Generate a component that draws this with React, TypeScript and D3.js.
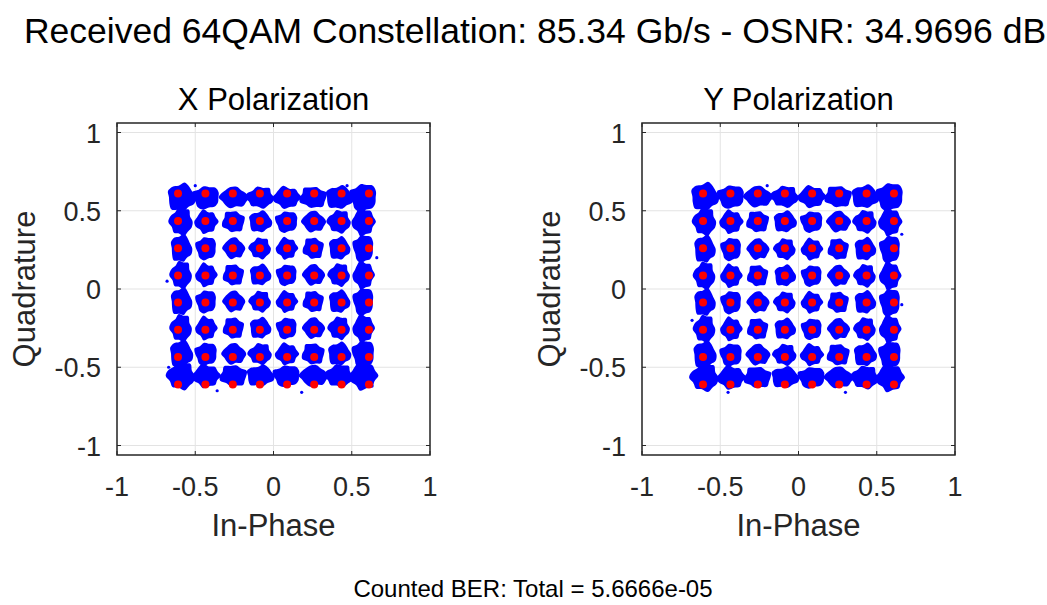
import React from "react";
import * as d3 from "d3";

// ideal 64QAM levels (red markers), same for I and Q
const levels = [-0.61, -0.435, -0.26, -0.087, 0.087, 0.26, 0.435, 0.61];

// centres of the received clouds (blue), per polarization
const xPolBlueI = [-0.59, -0.43, -0.255, -0.085, 0.085, 0.255, 0.42, 0.575];
const xPolBlueQ = [-0.555, -0.415, -0.25, -0.08, 0.09, 0.26, 0.43, 0.585];
const yPolBlueI = [-0.6, -0.43, -0.26, -0.087, 0.085, 0.255, 0.425, 0.585];
const yPolBlueQ = [-0.565, -0.42, -0.255, -0.085, 0.085, 0.255, 0.43, 0.59];

// cloud size and extra spread of the outer rows/columns
const cloudRadius = 0.068;
const edgeSpread = [1.3, 1.08, 1, 1, 1, 1, 1.08, 1.3];

// hand drawn outlines of the noise clouds (radius factor per angle)
const blobShapes = [
  [1.0, 0.86, 1.1, 0.92, 1.04, 0.85, 1.0, 1.12, 0.9, 1.02, 0.87, 1.08, 0.93, 1.0],
  [1.08, 0.92, 1.0, 0.84, 1.12, 0.93, 0.88, 1.04, 1.0, 0.86, 1.1, 0.92, 1.03, 0.88],
  [0.92, 1.06, 0.87, 1.0, 0.95, 1.13, 0.88, 0.98, 1.08, 0.87, 1.0, 0.93, 1.1, 0.9],
  [1.04, 0.9, 0.96, 1.1, 0.86, 1.0, 1.06, 0.88, 0.95, 1.12, 0.91, 1.0, 0.87, 1.05],
  [0.88, 1.0, 1.08, 0.92, 0.98, 0.87, 1.12, 0.96, 0.86, 1.03, 1.08, 0.9, 1.0, 0.95],
  [1.1, 0.96, 0.87, 1.03, 1.0, 0.9, 0.95, 1.08, 0.88, 0.93, 1.05, 0.85, 1.07, 1.0],
];

// stray samples outside the clouds
const xPolStrays = [
  [0.64, 0.6], [-0.66, 0.62], [-0.67, -0.5], [0.63, -0.62], [-0.5, 0.66],
  [0.18, -0.66], [-0.36, -0.65], [0.66, 0.2], [-0.68, 0.05], [0.47, 0.66],
];
const yPolStrays = [
  [0.65, 0.63], [-0.66, 0.6], [-0.66, -0.6], [0.64, -0.6], [-0.2, 0.66],
  [0.3, -0.66], [-0.68, -0.2], [0.66, 0.35], [0.66, -0.1], [-0.45, -0.66],
];

const ticks = [-1, -0.5, 0, 0.5, 1];

const FONT = "'Liberation Sans', Arial, Helvetica, sans-serif";

type PanelProps = {
  title: string;
  left: number;
  blueI: number[];
  blueQ: number[];
  strays: number[][];
};

function Panel({ title, left, blueI, blueQ, strays }: PanelProps) {
  const top = 123;
  const w = 313;
  const h = 332;
  const half = h / w;
  const x = d3.scaleLinear().domain([-1, 1]).range([left, left + w]);
  const y = d3.scaleLinear().domain([-half, half]).range([top + h, top]);
  const tl = 4;

  const blob = (cx: number, cy: number, rx: number, ry: number, shape: number[]) => {
    const n = shape.length;
    const pts: [number, number][] = shape.map((f, k) => {
      const a = (k / n) * Math.PI * 2;
      return [x(cx + Math.cos(a) * rx * f), y(cy + Math.sin(a) * ry * f)];
    });
    return d3.line().curve(d3.curveCatmullRomClosed)(pts) || "";
  };

  return (
    <g>
      {/* grid */}
      {ticks.map((t) => (
        <line key={"gx" + t} x1={x(t)} x2={x(t)} y1={top} y2={top + h} stroke="#e3e3e3" strokeWidth={1} />
      ))}
      {ticks.map((t) => (
        <line key={"gy" + t} x1={left} x2={left + w} y1={y(t)} y2={y(t)} stroke="#e3e3e3" strokeWidth={1} />
      ))}

      {/* received clouds */}
      {blueQ.map((q, r) =>
        blueI.map((i, c) => (
          <path
            key={`b-${r}-${c}`}
            d={blob(i, q, cloudRadius * edgeSpread[r], cloudRadius * edgeSpread[c], blobShapes[(r * 3 + c) % blobShapes.length])}
            fill="#0000ff"
          />
        ))
      )}
      {strays.map((s, k) => (
        <circle key={"s" + k} cx={x(s[0])} cy={y(s[1])} r={1.6} fill="#0000ff" />
      ))}

      {/* ideal points */}
      {levels.map((q) =>
        levels.map((i) => (
          <circle key={`r-${i}-${q}`} cx={x(i)} cy={y(q)} r={4} fill="#ff0000" />
        ))
      )}

      {/* box + ticks */}
      <rect x={left} y={top} width={w} height={h} fill="none" stroke="#262626" strokeWidth={1.5} />
      {ticks.map((t) => (
        <g key={"t" + t} stroke="#262626" strokeWidth={1}>
          <line x1={x(t)} x2={x(t)} y1={top + h} y2={top + h - tl} />
          <line x1={x(t)} x2={x(t)} y1={top} y2={top + tl} />
          <line x1={left} x2={left + tl} y1={y(t)} y2={y(t)} />
          <line x1={left + w} x2={left + w - tl} y1={y(t)} y2={y(t)} />
        </g>
      ))}

      {/* tick labels */}
      {ticks.map((t) => (
        <text key={"xl" + t} x={x(t)} y={496} textAnchor="middle" fontSize={27} fill="#262626" fontFamily={FONT}>
          {String(t)}
        </text>
      ))}
      {ticks.map((t) => (
        <text key={"yl" + t} x={left - 16} y={y(t) + 10} textAnchor="end" fontSize={27} fill="#262626" fontFamily={FONT}>
          {String(t)}
        </text>
      ))}

      {/* labels */}
      <text x={x(0)} y={110} textAnchor="middle" fontSize={31} fill="#000" fontFamily={FONT}>
        {title}
      </text>
      <text x={x(0)} y={536} textAnchor="middle" fontSize={31} fill="#262626" fontFamily={FONT}>
        In-Phase
      </text>
      <text
        transform={`translate(${left - 82},${y(0)}) rotate(-90)`}
        textAnchor="middle"
        fontSize={31}
        fill="#262626"
        fontFamily={FONT}
      >
        Quadrature
      </text>
    </g>
  );
}

export default function App() {
  return (
    <svg width={1047} height={605} style={{ display: "block", position: "absolute", left: 0, top: 0, background: "#fff" }}>
      <rect width={1047} height={605} fill="#fff" />
      <text x={535} y={43} textAnchor="middle" fontSize={35.5} fill="#000" fontFamily={FONT}>
        Received 64QAM Constellation: 85.34 Gb/s - OSNR: 34.9696 dB
      </text>
      <Panel title="X Polarization" left={117} blueI={xPolBlueI} blueQ={xPolBlueQ} strays={xPolStrays} />
      <Panel title="Y Polarization" left={642} blueI={yPolBlueI} blueQ={yPolBlueQ} strays={yPolStrays} />
      <text x={533} y={597} textAnchor="middle" fontSize={24} fill="#000" fontFamily={FONT}>
        Counted BER: Total = 5.6666e-05
      </text>
    </svg>
  );
}
